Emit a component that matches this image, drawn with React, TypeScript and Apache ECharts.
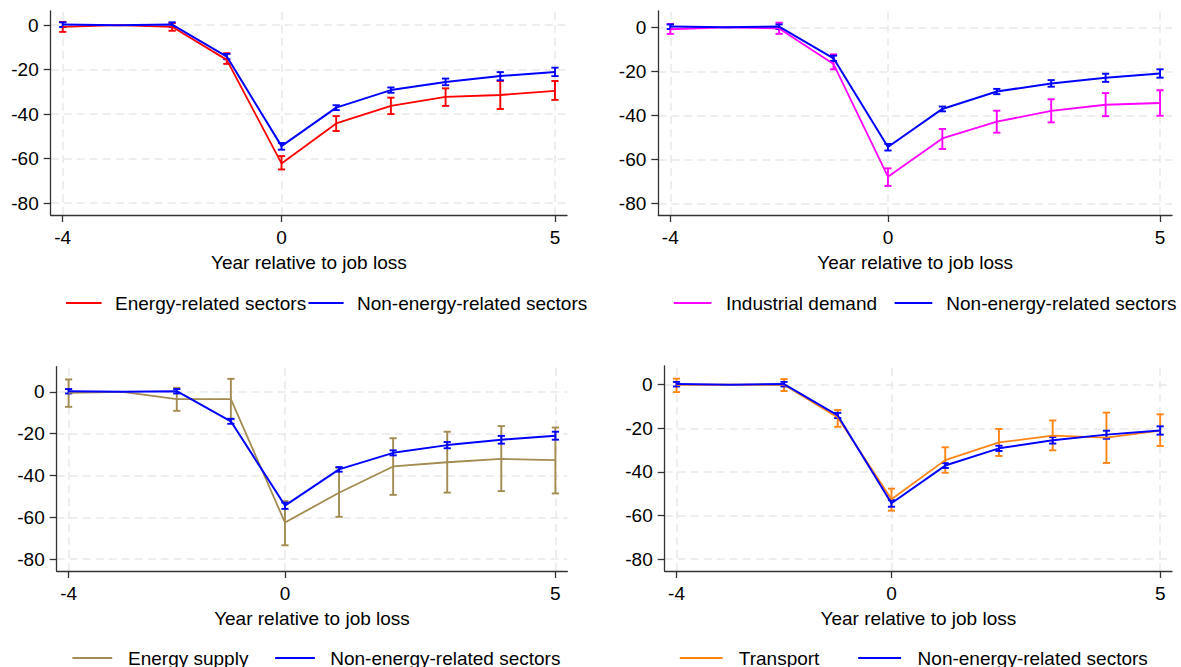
import React, { useEffect, useRef } from "react";
import * as echarts from "echarts";

// ---- Data ----
const years = [-4, -3, -2, -1, 0, 1, 2, 3, 4, 5];
const xTicks = [-4, 0, 5];
const yTicks = [-80, -60, -40, -20, 0];
const xAxisTitle = "Year relative to job loss";

const nonEnergyName = "Non-energy-related sectors";
const nonEnergy = [0.3, 0, 0.3, -14.1, -54.4, -37.1, -29.2, -25.5, -22.9, -21.0];
const nonEnergyLo = [-0.8, null, -0.8, -15.3, -56.0, -38.2, -30.4, -27.0, -24.8, -22.9];
const nonEnergyHi = [1.3, null, 1.3, -12.9, -53.0, -36.0, -28.0, -24.0, -21.1, -19.1];

const energyRelName = "Energy-related sectors";
const energyRel = [-0.7, 0, -0.7, -15.6, -62.2, -44.2, -36.3, -32.2, -31.4, -29.5];
const energyRelLo = [-3.0, null, -2.5, -17.4, -64.9, -47.6, -40.0, -36.3, -37.7, -33.6];
const energyRelHi = [1.5, null, 1.0, -12.6, -58.9, -40.9, -32.6, -28.4, -25.1, -25.1];

const industrialName = "Industrial demand";
const industrial = [-0.9, 0, -0.5, -16.7, -67.9, -50.5, -42.9, -38.0, -35.2, -34.4];
const industrialLo = [-3.0, null, -3.0, -19.1, -72.1, -55.3, -47.9, -43.2, -40.4, -40.2];
const industrialHi = [1.5, null, 2.1, -12.3, -64.1, -46.2, -37.9, -32.7, -29.9, -28.6];

const supplyName = "Energy supply";
const supply = [-0.5, 0, -3.5, -3.5, -62.5, -48.3, -35.7, -33.7, -32.1, -32.7];
const supplyLo = [-7.2, null, -9.1, -13.2, -73.4, -59.8, -49.3, -48.2, -47.5, -48.6];
const supplyHi = [5.9, null, 1.9, 6.2, -52.3, -36.4, -22.2, -19.1, -16.4, -17.1];

const transportName = "Transport";
const transport = [0, 0, 0, -15.0, -52.6, -34.6, -26.5, -23.4, -24.3, -21.1];
const transportLo = [-3.4, null, -2.9, -19.3, -57.8, -40.4, -32.7, -30.1, -35.9, -28.1];
const transportHi = [2.8, null, 2.6, -11.6, -47.7, -28.7, -20.3, -16.4, -12.8, -13.6];

// ---- Styling / layout ----
const FONT = '"Liberation Sans", Arial, sans-serif';
const BLUE = "#0000FF";

const panels = [
  {
    name: energyRelName, vals: energyRel, lo: energyRelLo, hi: energyRelHi, color: "#FF0000",
    grid: { left: 50.7, top: 11, width: 516.3, height: 204 }, yMin: -85.4, yMax: 6.4,
    legend: { y: 303, l1: [66, 101.6], t1: 115, l2: [308.4, 343.6], t2: 357 },
  },
  {
    name: industrialName, vals: industrial, lo: industrialLo, hi: industrialHi, color: "#FF00FF",
    grid: { left: 658.3, top: 11, width: 513.7, height: 204 }, yMin: -85.3, yMax: 7.4,
    legend: { y: 303, l1: [673.8, 711.4], t1: 726, l2: [894.6, 932.3], t2: 946.3 },
  },
  {
    name: supplyName, vals: supply, lo: supplyLo, hi: supplyHi, color: "#A38B52",
    grid: { left: 56.7, top: 366.7, width: 510.6, height: 204.3 }, yMin: -85.7, yMax: 12.0,
    legend: { y: 658, l1: [72.4, 112.2], t1: 128, l2: [275.1, 314.9], t2: 330.2 },
  },
  {
    name: transportName, vals: transport, lo: transportLo, hi: transportHi, color: "#FF8517",
    grid: { left: 664.7, top: 366, width: 507.3, height: 205 }, yMin: -85.5, yMax: 8.6,
    legend: { y: 658, l1: [679.8, 722.7], t1: 738.8, l2: [858.2, 901.1], t2: 917.6 },
  },
];

function errData(lo: (number | null)[], hi: (number | null)[]) {
  const out: number[][] = [];
  years.forEach((x, k) => {
    if (lo[k] != null && hi[k] != null) out.push([x, lo[k] as number, hi[k] as number]);
  });
  return out;
}

function errSeries(idx: number, lo: any[], hi: any[], color: string, lw: number) {
  return {
    type: "custom",
    xAxisIndex: idx,
    yAxisIndex: idx,
    silent: true,
    z: 3,
    data: errData(lo, hi),
    encode: { x: 0, y: [1, 2] },
    renderItem: (params: any, api: any) => {
      const x = api.value(0);
      const pLo = api.coord([x, api.value(1)]);
      const pHi = api.coord([x, api.value(2)]);
      const w = 3.6;
      const st = { stroke: color, lineWidth: lw, fill: "none" };
      return {
        type: "group",
        children: [
          { type: "line", shape: { x1: pLo[0], y1: pLo[1], x2: pHi[0], y2: pHi[1] }, style: st },
          { type: "line", shape: { x1: pLo[0] - w, y1: pLo[1], x2: pLo[0] + w, y2: pLo[1] }, style: st },
          { type: "line", shape: { x1: pHi[0] - w, y1: pHi[1], x2: pHi[0] + w, y2: pHi[1] }, style: st },
        ],
      };
    },
  };
}

function lineSeries(idx: number, name: string, vals: number[], color: string, lw: number) {
  return {
    type: "line",
    name,
    xAxisIndex: idx,
    yAxisIndex: idx,
    z: 3,
    data: years.map((x, k) => [x, vals[k]]),
    showSymbol: false,
    symbol: "none",
    lineStyle: { color, width: lw },
    itemStyle: { color },
  };
}

export default function App() {
  const ref = useRef<HTMLDivElement>(null);
  useEffect(() => {
    if (!ref.current) return;
    const chart = echarts.init(ref.current, null, { renderer: "svg" });
    const grids: any[] = [];
    const xAxes: any[] = [];
    const yAxes: any[] = [];
    const series: any[] = [];
    const graphics: any[] = [];
    const axisColor = "#333333";
    const gridStyle = { color: "#E9E9E9", width: 1.5, type: [8, 5] };

    panels.forEach((p, i) => {
      grids.push({ ...p.grid, containLabel: false });
      xAxes.push({
        type: "value",
        gridIndex: i,
        min: -4.22,
        max: 5.22,
        axisLine: { show: true, onZero: false, lineStyle: { color: axisColor, width: 1.3 } },
        axisTick: { show: true, length: 7, customValues: xTicks, lineStyle: { color: axisColor, width: 1.3 } },
        axisLabel: { customValues: xTicks, fontSize: 19, fontFamily: FONT, color: "#000", margin: 13 },
        splitLine: { show: false },
        name: xAxisTitle,
        nameLocation: "middle",
        nameGap: 38,
        nameTextStyle: { fontSize: 19, fontFamily: FONT, color: "#000" },
      });
      yAxes.push({
        type: "value",
        gridIndex: i,
        min: p.yMin,
        max: p.yMax,
        axisLine: { show: true, onZero: false, lineStyle: { color: axisColor, width: 1.3 } },
        axisTick: { show: true, length: 7, customValues: yTicks, lineStyle: { color: axisColor, width: 1.3 } },
        axisLabel: { customValues: yTicks, fontSize: 19, fontFamily: FONT, color: "#000", margin: 12 },
        splitLine: { show: false },
      });
      // gridlines
      series.push({
        type: "line",
        xAxisIndex: i,
        yAxisIndex: i,
        data: [],
        z: 0,
        silent: true,
        markLine: {
          silent: true,
          z: 0,
          symbol: "none",
          label: { show: false },
          lineStyle: gridStyle,
          emphasis: { disabled: true },
          data: [...yTicks.map((v) => ({ yAxis: v })), ...xTicks.map((v) => ({ xAxis: v }))],
        },
      });
      series.push(errSeries(i, p.lo, p.hi, p.color, 1.9));
      series.push(lineSeries(i, p.name, p.vals, p.color, 1.8));
      series.push(errSeries(i, nonEnergyLo, nonEnergyHi, BLUE, 1.9));
      series.push(lineSeries(i, nonEnergyName, nonEnergy, BLUE, 2));

      const L = p.legend;
      const ts = { fontSize: 19, fontFamily: FONT, fill: "#000", verticalAlign: "middle" };
      graphics.push(
        { type: "line", shape: { x1: L.l1[0], y1: L.y, x2: L.l1[1], y2: L.y }, style: { stroke: p.color, lineWidth: 1.8 } },
        { type: "text", x: L.t1, y: L.y, style: { ...ts, text: p.name } },
        { type: "line", shape: { x1: L.l2[0], y1: L.y, x2: L.l2[1], y2: L.y }, style: { stroke: BLUE, lineWidth: 2 } },
        { type: "text", x: L.t2, y: L.y, style: { ...ts, text: nonEnergyName } }
      );
    });

    chart.setOption({
      animation: false,
      backgroundColor: "#FFFFFF",
      textStyle: { fontFamily: FONT },
      grid: grids,
      xAxis: xAxes,
      yAxis: yAxes,
      series,
      graphic: graphics,
    });
    return () => chart.dispose();
  }, []);
  return (
    <div
      ref={ref}
      style={{ position: "fixed", left: 0, top: 0, width: 1181, height: 667, background: "#fff" }}
    />
  );
}
